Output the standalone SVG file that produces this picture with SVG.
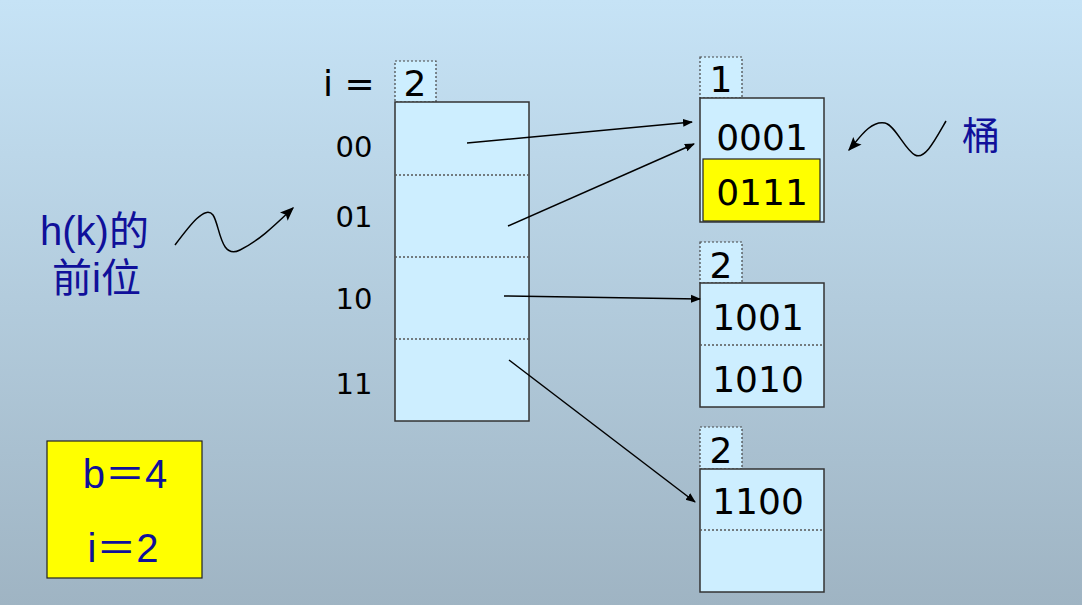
<svg xmlns="http://www.w3.org/2000/svg" width="1082" height="605" viewBox="0 0 1082 605">
<defs>
<linearGradient id="bg" x1="0" y1="0" x2="0" y2="1">
<stop offset="0" stop-color="#c6e3f6"/>
<stop offset="1" stop-color="#9fb4c3"/>
</linearGradient>
<marker id="ah" viewBox="0 0 10 10" refX="9" refY="5" markerWidth="10" markerHeight="10" markerUnits="userSpaceOnUse" orient="auto">
<path d="M0,1 L10,5 L0,9 z" fill="#000"/>
</marker>
<marker id="ah2" viewBox="0 0 10 10" refX="9" refY="5" markerWidth="14" markerHeight="14" markerUnits="userSpaceOnUse" orient="auto">
<path d="M0,1 L10,5 L0,9 L2,5 z" fill="#000"/>
</marker>
</defs>
<style>
.box{fill:#cdeeff;stroke:#333;stroke-width:1.5}
.lbl{fill:#cdeeff;stroke:#444;stroke-width:1.2;stroke-dasharray:2 2}
.div{stroke:#555;stroke-width:1.5;stroke-dasharray:2 2}
.t{font-family:"DejaVu Sans",sans-serif;fill:#000}
.big{font-size:36px}
.mid{font-size:29px}
.blue{font-family:"Liberation Sans","Noto Sans CJK SC",sans-serif;fill:#10109a}
.b40{font-size:40px}
.con{stroke:#000;stroke-width:1.5;fill:none}
</style>
<rect width="1082" height="605" fill="url(#bg)"/>

<g id="directory">
<text class="t big" x="323" y="96">i =</text>
<rect class="lbl" x="395" y="61" width="41" height="41"/>
<text class="t big" x="415" y="96" text-anchor="middle">2</text>
<rect class="box" x="395" y="102" width="134" height="319"/>
<line class="div" x1="395" y1="175" x2="529" y2="175"/>
<line class="div" x1="395" y1="257" x2="529" y2="257"/>
<line class="div" x1="395" y1="339" x2="529" y2="339"/>
<text class="t mid" x="354" y="157" text-anchor="middle">00</text>
<text class="t mid" x="354" y="227" text-anchor="middle">01</text>
<text class="t mid" x="354" y="309" text-anchor="middle">10</text>
<text class="t mid" x="354" y="394" text-anchor="middle">11</text>
</g>

<g id="bucket1">
<rect class="lbl" x="700" y="57" width="42" height="41"/>
<text class="t big" x="721" y="92" text-anchor="middle">1</text>
<rect class="box" x="700" y="98" width="124" height="124"/>
<text class="t big" x="762" y="150" text-anchor="middle">0001</text>
<rect x="703" y="159" width="117" height="62" fill="#ffff00" stroke="#222" stroke-width="1.2"/>
<text class="t big" x="762" y="205" text-anchor="middle">0111</text>
</g>

<g id="bucket2">
<rect class="lbl" x="700" y="242" width="42" height="41"/>
<text class="t big" x="721" y="278" text-anchor="middle">2</text>
<rect class="box" x="700" y="283" width="124" height="124"/>
<line class="div" x1="700" y1="345" x2="824" y2="345"/>
<text class="t big" x="758" y="330" text-anchor="middle">1001</text>
<text class="t big" x="758" y="392" text-anchor="middle">1010</text>
</g>

<g id="bucket3">
<rect class="lbl" x="700" y="427" width="42" height="42"/>
<text class="t big" x="721" y="463" text-anchor="middle">2</text>
<rect class="box" x="700" y="469" width="124" height="123"/>
<line class="div" x1="700" y1="530" x2="824" y2="530"/>
<text class="t big" x="758" y="514" text-anchor="middle">1100</text>
</g>

<g id="hk-label">
<text class="blue b40" x="40" y="245">h(k)的</text>
<text class="blue b40" x="52" y="292">前i位</text>
</g>

<g id="bucket-label">
<text class="blue" x="962" y="149" style="font-size:38px">桶</text>
</g>

<g id="params">
<rect x="47" y="441" width="155" height="137" fill="#ffff00" stroke="#222" stroke-width="1.2"/>
<text class="blue b40" x="125" y="488" text-anchor="middle">b＝4</text>
<text class="blue b40" x="123" y="562" text-anchor="middle">i＝2</text>
</g>

<g id="connectors">
<line class="con" x1="467" y1="143" x2="692" y2="122" marker-end="url(#ah)"/>
<line class="con" x1="508" y1="226" x2="694" y2="144" marker-end="url(#ah)"/>
<line class="con" x1="504" y1="296" x2="700" y2="299" marker-end="url(#ah)"/>
<line class="con" x1="509" y1="360" x2="695" y2="502" marker-end="url(#ah)"/>
<path class="con" d="M175,245 C190,225 205,205 213,215 C220,225 220,260 240,250 C260,240 275,225 293,208" marker-end="url(#ah2)"/>
<path class="con" d="M946,121 C935,140 925,160 915,155 C905,150 895,125 885,123 C870,120 858,140 849,150" marker-end="url(#ah2)"/>
</g>
</svg>
